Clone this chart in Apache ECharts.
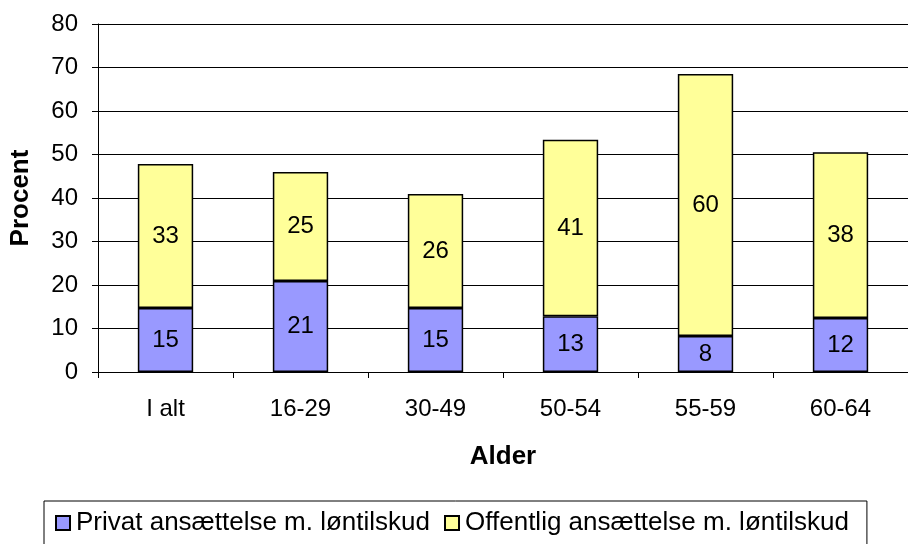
<!DOCTYPE html>
<html>
<head>
<meta charset="utf-8">
<script src="https://cdn.jsdelivr.net/npm/echarts@6/dist/echarts.min.js"></script>
<style>
  html, body { margin: 0; padding: 0; background: #fff; }
  #chart { width: 908px; height: 544px; }
</style>
</head>
<body>
<div id="chart"></div>
<script>
const categories = ['I alt', '16-29', '30-49', '50-54', '55-59', '60-64']
const privat = [14.7, 20.9, 14.7, 12.8, 8.3, 12.4]
const offentlig = [33.1, 25.1, 26.2, 40.6, 60.2, 38.1]
const seriesNames = ['Privat ansættelse m. løntilskud', 'Offentlig ansættelse m. løntilskud']

const font = 'Arial, "Liberation Sans", sans-serif'

const chart = echarts.init(document.getElementById('chart'))

const barLabel = {
  show: true,
  position: 'inside',
  color: '#000',
  fontSize: 24,
  fontFamily: font,
  formatter: (p) => Math.round(p.value),
}

chart.setOption({
  backgroundColor: '#fff',
  animation: false,
  textStyle: { fontFamily: font },
  grid: { left: 97, right: -12, top: 24, bottom: 172 },
  legend: {
    data: seriesNames,
    left: 44,
    top: 501,
    width: 860,
    padding: [9, 18, 12, 11],
    borderColor: '#000',
    borderWidth: 1,
    itemWidth: 14,
    itemHeight: 14,
    itemGap: 14,
    icon: 'rect',
    textStyle: { fontSize: 26, color: '#000', fontFamily: font, padding: [0, 0, 0, 1] },
  },
  xAxis: {
    type: 'category',
    data: categories,
    name: 'Alder',
    nameLocation: 'middle',
    nameGap: 72,
    nameTextStyle: { fontSize: 26, fontWeight: 'bold', color: '#000', fontFamily: font },
    axisLine: { lineStyle: { color: '#000' } },
    axisTick: { show: true, length: 6, lineStyle: { color: '#000' } },
    axisLabel: { fontSize: 24, color: '#000', margin: 25, fontFamily: font },
  },
  yAxis: {
    type: 'value',
    min: 0,
    max: 80,
    interval: 10,
    name: 'Procent',
    nameLocation: 'middle',
    nameGap: 64,
    nameTextStyle: { fontSize: 26, fontWeight: 'bold', color: '#000', fontFamily: font },
    axisLine: { show: true, lineStyle: { color: '#000' } },
    axisTick: { show: true, length: 6, lineStyle: { color: '#000' } },
    axisLabel: { fontSize: 24, color: '#000', margin: 20, fontFamily: font },
    splitLine: { lineStyle: { color: '#000', width: 1 } },
  },
  series: [
    {
      name: seriesNames[0],
      type: 'bar',
      stack: 'total',
      barWidth: '41%',
      data: privat,
      itemStyle: { color: '#9999ff', borderColor: '#000', borderWidth: 1.5 },
      label: barLabel,
    },
    {
      name: seriesNames[1],
      type: 'bar',
      stack: 'total',
      barWidth: '41%',
      data: offentlig,
      itemStyle: { color: '#ffff99', borderColor: '#000', borderWidth: 1.5 },
      label: barLabel,
    },
  ],
})
</script>
</body>
</html>
